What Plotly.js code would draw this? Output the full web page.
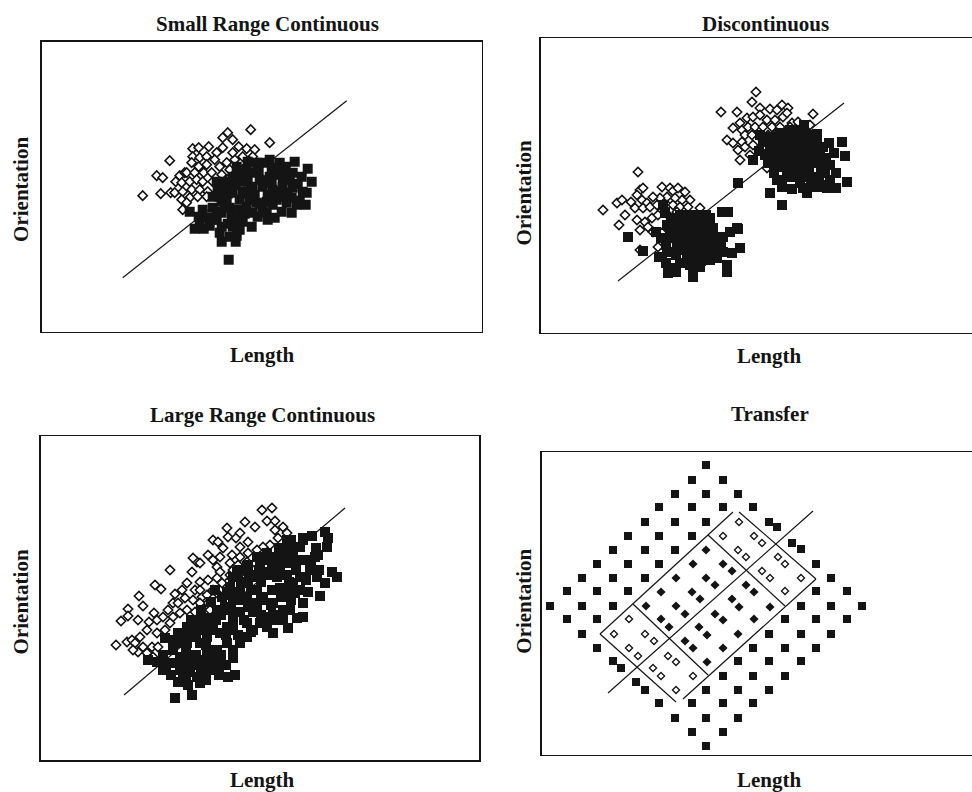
<!DOCTYPE html>
<html>
<head>
<meta charset="utf-8">
<script src="https://cdn.plot.ly/plotly-3.0.1.min.js"></script>
<style>html,body{margin:0;padding:0;background:#fff;}#chart{width:972px;height:792px;}</style>
</head>
<body>
<div id="chart"></div>
<script>
// ---------- text ----------
const panelTitles = ['Small Range Continuous', 'Discontinuous', 'Large Range Continuous', 'Transfer'];
const xLabel = 'Length';
const yLabel = 'Orientation';

// ---------- Panel 1: Small Range Continuous ----------
const srcOpenX = [101,115,121,128,119,129,138,134,143,151,157,167,175,181,186,181,191,197,209,205,213,228,151,158,165,173,150,157,165,145,153,162,170,140,148,155,161,171,133,141,150,158,166,140,148,156,165,173,141,145,178,185,193,201,211,191,180,188,196,201,208,186,194];
const srcOpenY = [136,156,154,171,138,139,156,150,159,183,184,185,179,184,199,194,192,185,202,183,182,189,175,174,175,172,169,165,167,159,159,159,159,149,150,152,150,150,139,140,142,142,140,132,134,135,135,137,122,129,165,169,172,175,175,179,157,162,165,162,170,152,146];
const srcFillX = [187,194,178,188,198,153,162,171,157,148,161,171,180,190,200,210,216,225,233,250,255,264,265,242,251,248,251,253,238,228,221,216,211,205,195,191,185,178,185,191,201,211,221,231,241,235,225,215,205,196,188,180,171,175,198,206,218,228,236,243,235,208,198,191,201,211,221,231,175,166,158,206,215,241,245,228,201,
  176,183,186,193,197,203,209,213,217,223,226,230,233,238,244,246,250,256,261,258,203,196,186,180,168,175,207,218,226,240,260,270,266,230,183,195,180];
const srcFillY = [72,90,99,95,102,103,103,112,115,120,122,124,119,115,114,105,115,119,114,119,127,127,139,135,144,152,159,170,169,172,169,165,159,162,165,155,145,135,130,139,140,144,145,142,145,132,130,129,125,122,124,130,135,150,150,150,152,155,157,159,164,132,132,105,110,119,124,127,112,114,110,170,169,152,129,135,159,
  142,150,138,147,157,152,145,137,160,151,137,149,135,140,165,139,134,148,140,131,118,112,108,105,106,120,138,128,112,120,155,150,163,163,125,96,90];
const srcBoundX = [81,305];
const srcBoundY = [54,231];

// ---------- Panel 2: Discontinuous ----------
const disOpenX = [97,62,76,81,84,78,90,99,102,96,101,106,94,102,109,116,121,129,132,137,144,149,141,134,126,119,112,126,132,139,147,159,96,104,111,117,112,121,99,107,99,117,129,127,136,
  215,211,180,196,219,229,236,241,247,272,269,199,206,212,219,226,234,242,251,257,192,201,207,214,222,231,239,186,192,201,204,211,219,227,236,249,197,204,212,199,209,226,229,222,246];
const disOpenY = [161,123,130,133,118,108,131,143,145,138,133,130,125,125,126,128,146,145,142,145,141,133,133,135,136,135,136,128,128,126,126,125,113,111,115,118,101,100,103,106,83,86,88,118,121,
  241,231,221,221,225,224,223,228,225,219,208,210,215,216,218,213,213,216,210,211,205,203,206,206,206,206,206,193,190,191,198,198,196,198,200,206,183,186,188,173,178,165,181,186,220];
const disFillX = [197,87,102,122,126,136,146,156,166,174,182,181,187,169,156,196,189,199,191,186,186,176,169,159,152,139,129,127,121,126,136,146,156,166,176,129,139,149,159,136,146,156,164,149,142,162,172,132,124,149,139,142,152,149,182,152,197,168,118,125,135,
  130,140,150,160,170,145,155,165,175,135,125,140,160,170,180,150,132,120,115,142,152,165,130,
  212,219,222,229,239,249,259,269,276,282,301,304,289,284,289,286,306,266,251,229,241,236,246,256,266,276,236,246,256,266,276,232,242,252,262,272,236,246,256,266,272,229,259,249,279,282,241,259,276,224,270,278,
  240,250,262,270,244,255,268,280,260,250,239,285,293,295,295,280,270,262,233,227,218,230,288,276,263,254,244];
const disFillY = [150,96,82,128,108,101,105,101,98,91,96,121,121,115,118,105,101,85,80,68,61,75,73,66,58,70,65,60,76,81,85,86,88,86,85,101,98,95,93,91,78,76,80,111,108,108,105,115,120,118,118,91,81,68,81,56,104,113,76,70,61,
  95,104,100,105,100,90,83,92,95,78,88,83,72,80,88,72,105,95,101,115,110,118,112,
  173,198,191,186,200,203,203,198,193,186,191,177,168,160,153,145,151,140,144,140,128,153,156,156,156,156,166,166,166,166,170,176,176,176,176,176,186,186,186,186,185,196,195,195,178,170,146,150,146,178,198,153,
  170,160,182,190,180,170,160,162,191,190,192,175,180,160,145,148,150,145,160,170,182,192,190,199,208,198,200];
const disBoundX = [77,303];
const disBoundY = [52,230];

// ---------- Panel 3: Large Range Continuous ----------
const lrcOpenX = [75,86,91,80,87,87,97,98,102,114,120,129,113,108,116,122,127,132,134,141,146,151,156,152,159,167,172,176,179,186,176,167,159,154,161,167,161,154,146,139,132,129,124,116,106,99,94,102,111,117,97,106,112,92,137,144,152,159,172,177,186,187,195,199,207,204,214,221,231,226,234,234,242,246,237,229,222,216,207,199,191,182,179,189,197,206,214,189,181,172,166,159,192,201,207,199,176,169];
const lrcOpenY = [115,118,120,139,151,144,140,164,154,175,171,190,147,138,140,143,150,157,166,170,177,188,198,202,197,205,200,193,188,177,182,180,178,170,163,157,150,148,150,147,143,137,130,127,130,123,117,113,113,113,108,107,103,110,157,162,160,170,220,218,232,223,222,213,218,238,233,250,252,239,239,230,233,227,222,215,213,210,207,203,205,212,203,197,195,198,197,185,177,170,165,157,190,188,187,227,167,150];
const lrcFillX = [134,151,147,159,137,139,149,162,172,187,194,179,192,192,122,107,116,122,124,132,141,137,146,152,159,167,174,181,189,192,199,207,216,226,236,242,246,251,259,271,284,287,286,274,266,291,296,284,279,267,262,262,256,247,232,226,234,242,249,254,252,259,246,239,231,222,216,207,199,192,184,176,167,172,179,186,192,199,206,212,219,226,216,207,199,192,186,192,206,222,231,239,232,242,216,206,212,159,166,152,146,159,166,172,146,154,162,176,139,132,142,156,132,262,277,269,276,259,252,246,219,236,246,
  145,155,165,150,140,160,170,180,185,175,165,155,145,150,160,170,180,190,200,210,220,228,236,244,252,260,255,248,240,230,220,212,203,197,210,220,232,242,250,265,270,278,275,262,250,238,228,218,208,200,190,186,196,205,210,125,130,145,165,178,185];
const lrcFillY = [62,65,75,77,78,90,88,87,90,83,85,95,102,108,90,100,98,105,122,110,117,127,133,137,140,142,170,163,173,183,190,195,203,207,203,210,220,210,213,224,228,222,213,203,200,188,183,177,164,168,157,143,142,132,127,133,140,150,150,167,177,183,185,190,193,188,183,177,168,160,153,150,137,130,127,117,110,117,123,130,137,143,150,153,148,140,133,130,137,163,170,172,157,163,170,163,157,130,123,123,117,117,110,103,103,97,100,110,103,97,83,83,120,220,205,190,183,170,197,197,197,183,170,
  110,105,115,95,97,92,97,105,125,140,130,127,125,140,150,158,145,150,160,170,178,185,195,203,205,200,190,178,165,155,160,148,140,125,128,145,145,140,160,180,195,190,212,222,220,212,200,190,185,178,165,168,188,192,185,95,85,80,80,85,95];
const lrcBoundX = [83,304];
const lrcBoundY = [65,252];

// ---------- Panel 4: Transfer ----------
const trTrainX = [164,150,181,133,164,196,117,150,181,211,103,133,164,227,235,86,117,150,71,103,133,250,259,55,86,117,274,40,71,103,289,25,55,86,274,305,8,40,71,259,289,320,25,55,243,274,305,40,227,259,289,55,211,243,274,71,79,196,227,259,181,211,243,94,103,164,196,227,117,150,181,211,133,164,196,150,181,164];
const trTrainY = [290,275,275,261,261,261,248,248,248,248,233,233,233,233,228,219,219,219,205,205,205,212,206,191,191,191,191,177,177,177,177,164,164,164,164,164,149,149,149,149,149,149,136,136,136,136,136,121,121,121,121,107,107,107,107,94,87,94,94,94,79,79,79,73,65,65,65,65,52,52,52,52,37,37,37,23,23,9];
const trInnerX = [164,151,181,190,134,164,173,119,150,158,204,212,104,134,143,190,197,228,119,127,173,181,157,165,212,143,151,196,181,165];
const trInnerY = [205,191,191,184,177,177,170,163,163,156,170,163,149,149,141,156,148,148,136,128,141,135,128,120,136,114,107,121,107,93];
const trOuterX = [197,181,212,220,196,204,236,243,220,228,259,243,87,72,103,112,87,96,126,134,111,119,151,134];
const trOuterY = [233,219,219,212,205,198,198,191,184,177,177,164,136,121,121,114,107,99,99,93,87,79,79,65];
const trBoundX = [66,271];
const trBoundY = [62,244];
const trRegionX = [58,191,null,197,274,null,274,141,null,58,134,null,91,166,null,166,243];
const trRegionY = [121,243,null,243,176,null,176,56,null,121,53,null,151,80,null,220,149];

// ---------- axis extents (arbitrary units) ----------
const xRanges = [[0,440],[0,431],[0,438],[0,430]];
const yRanges = [[0,290],[0,295],[0,324],[0,303]];

// ---------- styling helpers ----------
const BLACK = '#141414';
function lineTrace(x, y, ax, w) {
  return {x: x, y: y, xaxis: ax[0], yaxis: ax[1], type: 'scatter', mode: 'lines',
    line: {color: BLACK, width: w || 1.2}, hoverinfo: 'skip', connectgaps: false};
}
function openTrace(x, y, ax, size, lw) {
  return {x: x, y: y, xaxis: ax[0], yaxis: ax[1], type: 'scatter', mode: 'markers',
    marker: {symbol: 'diamond', size: size, color: '#ffffff', line: {color: BLACK, width: lw}}};
}
function fillTrace(x, y, ax, symbol, size) {
  return {x: x, y: y, xaxis: ax[0], yaxis: ax[1], type: 'scatter', mode: 'markers',
    marker: {symbol: symbol, size: size, color: BLACK, line: {width: 0}}};
}

const A1 = ['x','y'], A2 = ['x2','y2'], A3 = ['x3','y3'], A4 = ['x4','y4'];
const data = [
  lineTrace(srcBoundX, srcBoundY, A1),
  openTrace(srcOpenX, srcOpenY, A1, 7.2, 1.6),
  fillTrace(srcFillX, srcFillY, A1, 'square', 10),

  lineTrace(disBoundX, disBoundY, A2),
  openTrace(disOpenX, disOpenY, A2, 7.2, 1.6),
  fillTrace(disFillX, disFillY, A2, 'square', 10),

  lineTrace(lrcBoundX, lrcBoundY, A3),
  openTrace(lrcOpenX, lrcOpenY, A3, 7.2, 1.6),
  fillTrace(lrcFillX, lrcFillY, A3, 'square', 10),

  lineTrace(trRegionX, trRegionY, A4, 1.2),
  lineTrace(trBoundX, trBoundY, A4, 1.2),
  fillTrace(trTrainX, trTrainY, A4, 'square', 8),
  fillTrace(trInnerX, trInnerY, A4, 'diamond', 7),
  openTrace(trOuterX, trOuterY, A4, 5.5, 1.3)
];

function xAxis(i, domain, anchor) {
  return {domain: domain, range: xRanges[i], anchor: anchor, showgrid: false, zeroline: false,
    showticklabels: false, ticks: '', showline: true, linecolor: BLACK, linewidth: 1.5,
    mirror: true, fixedrange: true};
}
function yAxis(i, domain, anchor, mirror) {
  return {domain: domain, range: yRanges[i], anchor: anchor, showgrid: false, zeroline: false,
    showticklabels: false, ticks: '', showline: true, linecolor: BLACK, linewidth: 1.5,
    mirror: mirror, fixedrange: true};
}

const FONT = {family: 'Liberation Serif, Times New Roman, serif', size: 21, color: BLACK};
function label(text, x, y, angle) {
  return {text: '<b>' + text + '</b>', x: x, y: y, xref: 'paper', yref: 'paper',
    xanchor: 'center', yanchor: 'middle', showarrow: false, textangle: angle || 0, font: FONT};
}

const layout = {
  width: 972, height: 792,
  margin: {l: 0, r: 0, t: 0, b: 0, pad: 0},
  paper_bgcolor: '#ffffff', plot_bgcolor: '#ffffff',
  showlegend: false,
  xaxis:  xAxis(0, [0.04290, 0.49558], 'y'),
  yaxis:  yAxis(0, [0.58123, 0.94739], 'x', true),
  xaxis2: xAxis(1, [0.55658, 1.0], 'y2'),
  yaxis2: yAxis(1, [0.57955, 0.95202], 'x2', false),
  xaxis3: xAxis(2, [0.04218, 0.49280], 'y3'),
  yaxis3: yAxis(2, [0.04040, 0.44949], 'x3', true),
  xaxis4: xAxis(3, [0.55761, 1.0], 'y4'),
  yaxis4: yAxis(3, [0.04672, 0.42929], 'x4', false),
  annotations: [
    label(panelTitles[0], 0.2747, 0.97020),
    label(panelTitles[1], 0.78704, 0.97020),
    label(panelTitles[2], 0.26955, 0.47652),
    label(panelTitles[3], 0.79218, 0.47778),
    label(xLabel, 0.26955, 0.55227),
    label(xLabel, 0.79218, 0.55025),
    label(xLabel, 0.26955, 0.01490),
    label(xLabel, 0.79218, 0.01490),
    label(yLabel, 0.02181, 0.76048, -90),
    label(yLabel, 0.53899, 0.75694, -90),
    label(yLabel, 0.02181, 0.23965, -90),
    label(yLabel, 0.53899, 0.24141, -90)
  ]
};

Plotly.newPlot('chart', data, layout, {staticPlot: true, displayModeBar: false});
</script>
</body>
</html>
